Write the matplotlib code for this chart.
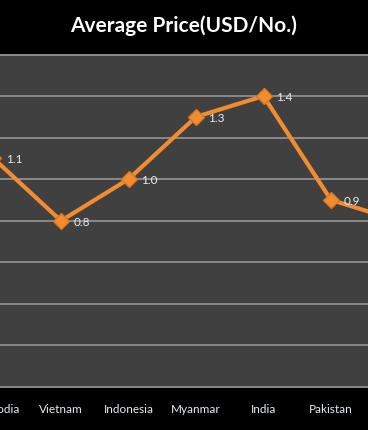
import numpy as np
import matplotlib.pyplot as plt

# data (chart is cropped at both sides: Cambodia and the last country are partly cut off)
countries = ['Cambodia', 'Vietnam', 'Indonesia', 'Myanmar', 'India', 'Pakistan', '']
price = [1.1, 0.8, 1.0, 1.3, 1.4, 0.9, 0.8]

orange = '#F28C30'
grid_col = '#8a8a8a'
text_col = '#e6ecf2'

plt.rcParams['font.family'] = ['Lato', 'DejaVu Sans']

fig = plt.figure(figsize=(3.68, 4.30), dpi=100, facecolor='black')
ax = fig.add_axes([0, 43 / 430, 1, 332.5 / 430])
ax.set_facecolor('#404040')

x = np.arange(len(countries))
ax.plot(x, price, color=orange, lw=3, marker='D', ms=8,
        mfc=orange, mec='#d9761c', clip_on=False, zorder=3)

# data labels (the last point lies outside the visible area)
for xi, v in zip(x[:-1], price[:-1]):
    ax.annotate(f'{v:.1f}', (xi, v), xytext=(9, -1), textcoords='offset points',
                color=text_col, fontsize=8.5, va='center', ha='left',
                annotation_clip=False)

# the original plot is wider than the picture, so only part of it is shown
ax.set_xlim(1 - 61 / 67.5, 1 - 61 / 67.5 + 368 / 67.5)
ax.set_ylim(0, 1.6)
ax.set_yticks(np.arange(0, 1.61, 0.2))
ax.yaxis.grid(True, color=grid_col, lw=1.4)
ax.set_axisbelow(True)
ax.tick_params(left=False, labelleft=False, bottom=False, labelbottom=False)
for s in ['left', 'right']:
    ax.spines[s].set_visible(False)
for s in ['top', 'bottom']:
    ax.spines[s].set_color(grid_col)
    ax.spines[s].set_linewidth(1.4)

# category labels drawn as text so cut-off ones still show
for xi, name in zip(x, countries):
    ax.text(xi, -0.11, name, color=text_col, fontsize=8.5, ha='center', va='center',
            clip_on=False)

fig.text(0.5, 1 - 26 / 430, 'Average Price(USD/No.)', color='white', fontsize=15,
         fontweight='bold', ha='center', va='center')

fig.savefig('out.png', dpi=100, facecolor='black')
